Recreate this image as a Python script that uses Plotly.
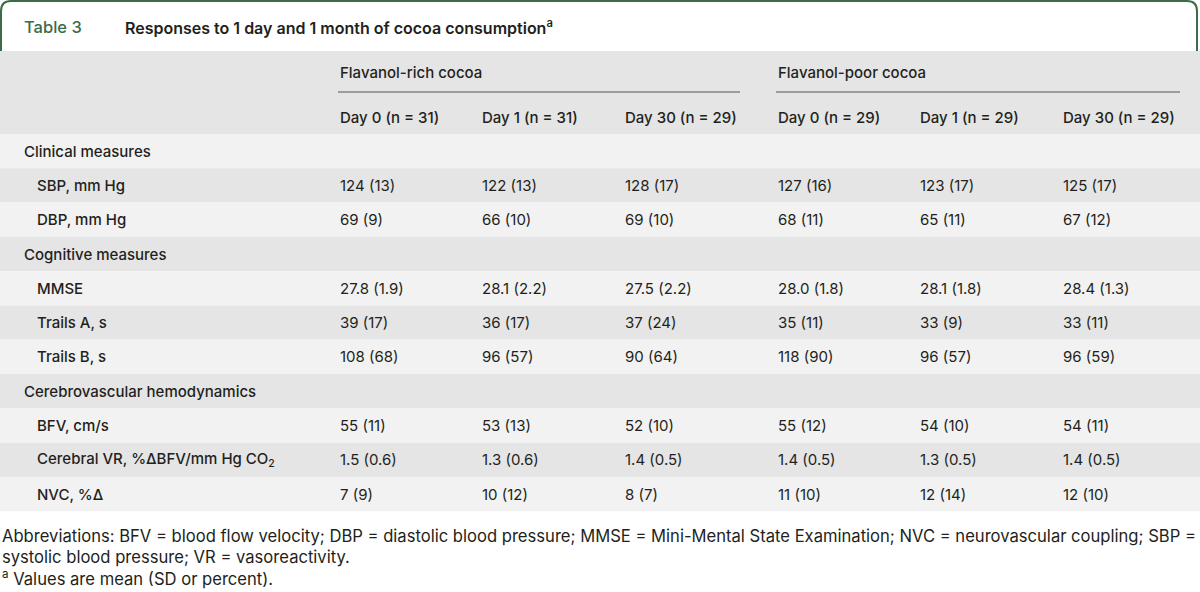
import plotly.graph_objects as go

# ---------------- data ----------------
title_label = "Table 3"
title_text = "Responses to 1 day and 1 month of cocoa consumption<sup>a</sup>"
groups = ["Flavanol-rich cocoa", "Flavanol-poor cocoa"]
col_headers = ["Day 0 (n = 31)", "Day 1 (n = 31)", "Day 30 (n = 29)",
               "Day 0 (n = 29)", "Day 1 (n = 29)", "Day 30 (n = 29)"]

row_labels = ["Clinical measures", "SBP, mm Hg", "DBP, mm Hg",
              "Cognitive measures", "MMSE", "Trails A, s", "Trails B, s",
              "Cerebrovascular hemodynamics", "BFV, cm/s",
              "Cerebral VR, %ΔBFV/mm Hg CO<sub>2</sub>", "NVC, %Δ"]
row_is_section = [True, False, False, True, False, False, False, True, False, False, False]
row_values = [
    None,
    ["124 (13)", "122 (13)", "128 (17)", "127 (16)", "123 (17)", "125 (17)"],
    ["69 (9)", "66 (10)", "69 (10)", "68 (11)", "65 (11)", "67 (12)"],
    None,
    ["27.8 (1.9)", "28.1 (2.2)", "27.5 (2.2)", "28.0 (1.8)", "28.1 (1.8)", "28.4 (1.3)"],
    ["39 (17)", "36 (17)", "37 (24)", "35 (11)", "33 (9)", "33 (11)"],
    ["108 (68)", "96 (57)", "90 (64)", "118 (90)", "96 (57)", "96 (59)"],
    None,
    ["55 (11)", "53 (13)", "52 (10)", "55 (12)", "54 (10)", "54 (11)"],
    ["1.5 (0.6)", "1.3 (0.6)", "1.4 (0.5)", "1.4 (0.5)", "1.3 (0.5)", "1.4 (0.5)"],
    ["7 (9)", "10 (12)", "8 (7)", "11 (10)", "12 (14)", "12 (10)"],
]
footnotes = [
    "Abbreviations: BFV = blood flow velocity; DBP = diastolic blood pressure; MMSE = Mini-Mental State Examination; NVC = neurovascular coupling; SBP =",
    "systolic blood pressure; VR = vasoreactivity.",
    "<sup>a</sup> Values are mean (SD or percent).",
]

# ---------------- layout / style ----------------
W, H = 1200, 592
GREEN = "#3b6b47"
DARK = "#e5e5e5"
LIGHT = "#f2f2f2"
TXT = "#231f20"
FONT = "Inter"

col_x = [338, 480, 623, 776, 918, 1061]
group_x = [(338, 740), (776, 1180)]
header_top, header_bot = 51, 134
row_h = 34.3

fig = go.Figure()
shapes = []
ann = []

r = 10
path = (f"M 1,{header_top} L 1,{1+r} Q 1,1 {1+r},1 L {1197-r},1 "
        f"Q 1197,1 1197,{1+r} L 1197,{header_top}")
shapes.append(dict(type="path", path=path, line=dict(color=GREEN, width=2)))
ann.append(dict(x=22, y=27, text=title_label,
                font=dict(color=GREEN, size=16.5, family=FONT, weight=500)))
ann.append(dict(x=123, y=27, text=title_text,
                font=dict(color=TXT, size=16, family=FONT, weight=600)))

shapes.append(dict(type="rect", x0=0, x1=1200, y0=header_top, y1=header_bot,
                   fillcolor=DARK, line_width=0, layer="below"))
for (gx0, gx1), g in zip(group_x, groups):
    ann.append(dict(x=gx0, y=72, text=g, font=dict(color=TXT, size=15, family=FONT, weight=500)))
    shapes.append(dict(type="line", x0=gx0, x1=gx1, y0=92, y1=92,
                       line=dict(color="#555555", width=1)))
for cx, ch in zip(col_x, col_headers):
    ann.append(dict(x=cx, y=117, text=ch, font=dict(color=TXT, size=15, family=FONT, weight=500)))

for i, (lab, sec, vals) in enumerate(zip(row_labels, row_is_section, row_values)):
    y0 = header_bot + i * row_h
    y1 = y0 + row_h
    yc = (y0 + y1) / 2
    shapes.append(dict(type="rect", x0=0, x1=1200, y0=y0, y1=y1,
                       fillcolor=LIGHT if i % 2 == 0 else DARK, line_width=0, layer="below"))
    ann.append(dict(x=22 if sec else 35, y=yc, text=lab,
                    font=dict(color=TXT, size=15, family=FONT, weight=500)))
    if vals:
        for cx, v in zip(col_x, vals):
            ann.append(dict(x=cx, y=yc, text=v, font=dict(color=TXT, size=15, family=FONT)))

for k, f in enumerate(footnotes):
    ann.append(dict(x=0, y=536 + k * 21, text=f, font=dict(color=TXT, size=16.6, family=FONT)))

for a in ann:
    a.update(xref="x", yref="y", xanchor="left", yanchor="middle", showarrow=False)
for s in shapes:
    s.setdefault("xref", "x")
    s.setdefault("yref", "y")

fig.update_layout(
    width=W, height=H, margin=dict(l=0, r=0, t=0, b=0),
    paper_bgcolor="white", plot_bgcolor="white",
    xaxis=dict(range=[0, W], visible=False, fixedrange=True),
    yaxis=dict(range=[H, 0], visible=False, fixedrange=True),
    shapes=shapes, annotations=ann, showlegend=False,
)
fig.write_html("out.html", config={"displayModeBar": False},
               post_script="document.body.style.margin='0';document.body.style.overflow='hidden';")
